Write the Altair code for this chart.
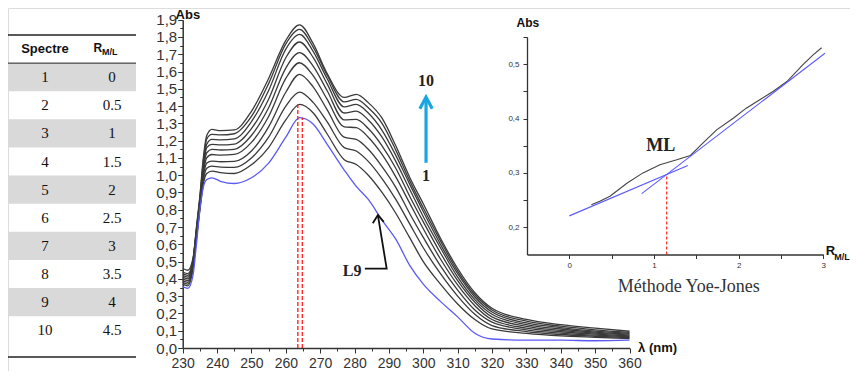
import altair as alt
import pandas as pd

# ---------------- data ----------------
WAVELENGTHS = [230, 231.5, 233, 234, 235, 236, 237, 238.5, 241, 245, 250, 255, 260, 264, 268,
               272, 277, 280.5, 284, 288, 292, 296, 300, 305, 310, 315, 320, 330, 340, 350, 360]

ABS_1 = [0.355, 0.345, 0.42, 0.60, 0.80, 0.93, 0.975, 0.985, 0.965, 0.952, 0.985, 1.07, 1.22, 1.333, 1.295,
         1.18, 1.03, 0.935, 0.86, 0.74, 0.63, 0.48, 0.37, 0.27, 0.18, 0.085, 0.052, 0.045, 0.045, 0.042, 0.045]
ABS_2 = [0.37, 0.36, 0.46, 0.63, 0.80, 0.95, 1.01, 1.024, 1.015, 1.01, 1.06, 1.16, 1.32, 1.41, 1.36,
         1.24, 1.09, 1.062, 1.00, 0.90, 0.78, 0.64, 0.50, 0.37, 0.255, 0.165, 0.11, 0.085, 0.07, 0.062, 0.055]
ABS_3 = [0.38, 0.37, 0.47, 0.64, 0.81, 0.97, 1.04, 1.053, 1.047, 1.045, 1.10, 1.22, 1.40, 1.481, 1.42,
         1.31, 1.16, 1.14, 1.08, 0.98, 0.86, 0.72, 0.58, 0.43, 0.30, 0.195, 0.13, 0.095, 0.078, 0.068, 0.06]
ABS_4 = [0.39, 0.38, 0.48, 0.65, 0.82, 0.99, 1.07, 1.082, 1.078, 1.08, 1.14, 1.28, 1.48, 1.584, 1.51,
         1.38, 1.22, 1.207, 1.15, 1.05, 0.93, 0.78, 0.64, 0.475, 0.335, 0.22, 0.15, 0.105, 0.086, 0.074, 0.065]
ABS_5 = [0.40, 0.39, 0.49, 0.66, 0.83, 1.01, 1.10, 1.12, 1.116, 1.12, 1.19, 1.34, 1.56, 1.651, 1.575,
         1.44, 1.28, 1.275, 1.22, 1.12, 0.99, 0.84, 0.69, 0.515, 0.365, 0.245, 0.165, 0.115, 0.094, 0.08, 0.07]
ABS_6 = [0.41, 0.40, 0.50, 0.67, 0.84, 1.03, 1.13, 1.149, 1.146, 1.15, 1.23, 1.39, 1.62, 1.709, 1.63,
         1.49, 1.32, 1.323, 1.27, 1.17, 1.04, 0.88, 0.73, 0.55, 0.39, 0.265, 0.18, 0.125, 0.102, 0.086, 0.075]
ABS_7 = [0.42, 0.41, 0.50, 0.68, 0.85, 1.05, 1.16, 1.178, 1.175, 1.18, 1.27, 1.44, 1.68, 1.771, 1.68,
         1.53, 1.36, 1.371, 1.32, 1.22, 1.08, 0.92, 0.76, 0.58, 0.41, 0.28, 0.195, 0.135, 0.11, 0.092, 0.08]
ABS_8 = [0.43, 0.42, 0.51, 0.68, 0.86, 1.06, 1.18, 1.207, 1.204, 1.21, 1.31, 1.49, 1.73, 1.815, 1.715,
         1.56, 1.395, 1.41, 1.36, 1.26, 1.115, 0.95, 0.79, 0.60, 0.43, 0.295, 0.208, 0.145, 0.118, 0.098, 0.085]
ABS_9 = [0.44, 0.43, 0.51, 0.69, 0.87, 1.08, 1.21, 1.236, 1.233, 1.24, 1.34, 1.53, 1.76, 1.844, 1.74,
         1.58, 1.425, 1.439, 1.39, 1.30, 1.145, 0.97, 0.81, 0.62, 0.445, 0.308, 0.22, 0.155, 0.126, 0.105, 0.09]
ABS_10 = [0.46, 0.45, 0.52, 0.70, 0.88, 1.10, 1.23, 1.265, 1.258, 1.262, 1.37, 1.56, 1.78, 1.87, 1.76,
          1.59, 1.45, 1.468, 1.42, 1.33, 1.17, 0.99, 0.835, 0.635, 0.46, 0.32, 0.23, 0.165, 0.135, 0.115, 0.097]
CURVES = [ABS_1, ABS_2, ABS_3, ABS_4, ABS_5, ABS_6, ABS_7, ABS_8, ABS_9, ABS_10]

PEAK_WL = [263.5, 264.8]
PEAK_ABS = [1.41, 1.333]

SPECTRE = ["1", "2", "3", "4", "5", "6", "7", "8", "9", "10"]
R_ML = ["0", "0.5", "1", "1.5", "2", "2.5", "3", "3.5", "4", "4.5"]

YJ_R = [0.26, 0.36, 0.48, 0.68, 0.87, 1.07, 1.27, 1.43, 1.58, 1.74, 1.94, 2.09, 2.25, 2.41, 2.57, 2.76, 2.88, 2.98]
YJ_ABS = [0.2415, 0.248, 0.257, 0.281, 0.300, 0.315, 0.324, 0.332, 0.355, 0.379, 0.401, 0.419, 0.4345, 0.450,
          0.468, 0.499, 0.517, 0.530]
TANGENT_1_R = [0.0, 1.40]
TANGENT_1_ABS = [0.221, 0.3135]
TANGENT_2_R = [0.855, 3.02]
TANGENT_2_ABS = [0.262, 0.520]
YJ_POINT_R = [1.15]
YJ_POINT_ABS = [0.297]

# ---------------- layout ----------------
SANS = "Liberation Sans"
SERIF = "Liberation Serif"
TXT = "#333333"

SX_MAIN = alt.Scale(domain=[230, 360], range=[174.7, 621.5], nice=False, zero=False)
SY_MAIN = alt.Scale(domain=[0, 1.9], range=[340, 11.7], nice=False, zero=False)
SX_INS = alt.Scale(domain=[-0.5, 3], range=[519, 815.3], nice=False, zero=False)
SY_INS = alt.Scale(domain=[0.15, 0.55], range=[246.5, 28.9], nice=False, zero=False)
SX_TAB = alt.Scale(domain=[0, 1], range=[0, 128], nice=False, zero=False)
SY_TAB = alt.Scale(domain=[0, 12], range=[27, 364.4], nice=False, zero=False)

COMMA1 = "replace(format(datum.value, '.1f'), '.', ',')"
IS_TENTH = "abs(datum.value*10 - round(datum.value*10)) < 0.001"

AX_MAIN_X = alt.Axis(
    orient="bottom", offset=-23, values=list(range(230, 361, 5)),
    labelExpr="datum.value % 10 === 0 ? format(datum.value, 'd') : ''",
    tickSize={"condition": {"test": "datum.value % 10 !== 0", "value": 3}, "value": 5},
    labelFont=SANS, labelFontSize=14, labelColor=TXT, labelPadding=3,
    labelFlush=False, labelOverlap=False, domainColor="#333", domainWidth=1.5,
    tickColor="#333", tickWidth=1, grid=False, title=None)
AX_MAIN_Y = alt.Axis(
    orient="left", offset=-174.7, values=[round(i * 0.05, 2) for i in range(39)],
    labelExpr=f"{IS_TENTH} ? {COMMA1} : ''",
    tickSize={"condition": {"test": f"!({IS_TENTH})", "value": 3}, "value": 5},
    labelFont=SANS, labelFontSize=15, labelColor=TXT, labelPadding=1,
    labelFlush=False, labelOverlap=False, domainColor="#333", domainWidth=1.5,
    tickColor="#333", tickWidth=1, grid=False, title=None)
AX_INS_X = alt.Axis(
    orient="bottom", offset=-116.5, values=[0, 0.5, 1, 1.5, 2, 2.5, 3],
    labelExpr="datum.value % 1 === 0 ? format(datum.value, 'd') : ''",
    tickSize=4, labelFont=SANS, labelFontSize=8, labelColor=TXT, labelPadding=3,
    labelFlush=False, labelOverlap=False, domainColor="#333", domainWidth=1.3,
    tickColor="#333", grid=False, title=None)
AX_INS_Y = alt.Axis(
    orient="left", offset=-519, values=[0.2, 0.25, 0.3, 0.35, 0.4, 0.45, 0.5, 0.55],
    labelExpr=f"{IS_TENTH} && datum.value < 0.54 ? {COMMA1} : ''",
    tickSize=4, labelFont=SANS, labelFontSize=8, labelColor=TXT, labelPadding=4,
    labelFlush=False, labelOverlap=False, domainColor="#333", domainWidth=1.3,
    tickColor="#333", grid=False, title=None)


def xm(f, axis=None):
    return alt.X(f, scale=SX_MAIN, axis=axis)


def ym(f, axis=None):
    return alt.Y(f, scale=SY_MAIN, axis=axis)


def xi(f, axis=None):
    return alt.X(f, scale=SX_INS, axis=axis)


def yi(f, axis=None):
    return alt.Y(f, scale=SY_INS, axis=axis)


def xt(f):
    return alt.X(f, scale=SX_TAB, axis=None)


def yt(f):
    return alt.Y(f, scale=SY_TAB, axis=None)


# ---------------- main spectra ----------------
rows = []
for k, curve in enumerate(CURVES, start=1):
    for wl, a in zip(WAVELENGTHS, curve):
        rows.append({"curve": k, "wl": wl, "abs": a})
spec = pd.DataFrame(rows)

black = alt.Chart(spec[spec.curve > 1]).mark_line(
    interpolate="monotone", color="#3a3a3a", strokeWidth=1.3).encode(
    x=xm("wl:Q", AX_MAIN_X), y=ym("abs:Q", AX_MAIN_Y), detail="curve:N")
blue = alt.Chart(spec[spec.curve == 1]).mark_line(
    interpolate="monotone", color="#5a5af2", strokeWidth=1.3).encode(
    x=xm("wl:Q"), y=ym("abs:Q"))

peaks = pd.DataFrame({"wl": PEAK_WL, "abs": PEAK_ABS, "base": [0.0] * len(PEAK_WL)})
red_main = alt.Chart(peaks).mark_rule(color="#ff1a1a", strokeDash=[4, 2], strokeWidth=1.3).encode(
    x=xm("wl:Q"), y=ym("base:Q"), y2="abs:Q")

# cyan arrow 1 -> 10
cyan_df = pd.DataFrame({
    "wl": [300.8, 300.8, 299.0, 300.8, 302.6],
    "abs": [1.072, 1.45, 1.385, 1.452, 1.385],
    "seg": [0, 0, 1, 1, 1], "i": [0, 1, 0, 1, 2]})
cyan = alt.Chart(cyan_df).mark_line(color="#19a6e0", strokeWidth=3.2, strokeJoin="miter").encode(
    x=xm("wl:Q"), y=ym("abs:Q"), detail="seg:N", order="i:Q")

# L9 arrow
l9_df = pd.DataFrame({
    "wl": [283.0, 289.35, 286.8, 285.3, 286.8, 288.5],
    "abs": [0.459, 0.459, 0.768, 0.722, 0.770, 0.730],
    "seg": [0, 0, 0, 1, 1, 1], "i": [0, 1, 2, 0, 1, 2]})
l9_arrow = alt.Chart(l9_df).mark_line(color="#111", strokeWidth=1.8).encode(
    x=xm("wl:Q"), y=ym("abs:Q"), detail="seg:N", order="i:Q")

main_serif = pd.DataFrame({"wl": [300.8, 300.8, 279.3], "abs": [1.547, 0.997, 0.446], "t": ["10", "1", "L9"]})
main_serif_txt = alt.Chart(main_serif).mark_text(
    font=SERIF, fontSize=16, fontWeight="bold", color="#222", baseline="middle").encode(
    x=xm("wl:Q"), y=ym("abs:Q"), text="t:N")

abs_title = alt.Chart(pd.DataFrame({"wl": [231.5], "abs": [1.93], "t": ["Abs"]})).mark_text(
    font=SANS, fontSize=13, fontWeight="bold", color="#111", baseline="middle").encode(
    x=xm("wl:Q"), y=ym("abs:Q"), text="t:N")
lam_title = alt.Chart(pd.DataFrame({"wl": [362.5], "abs": [0.0], "t": ["λ (nm)"]})).mark_text(
    font=SANS, fontSize=13, fontWeight="bold", color="#111", baseline="middle", align="left").encode(
    x=xm("wl:Q"), y=ym("abs:Q"), text="t:N")

# ---------------- inset (Yoe-Jones) ----------------
yj = pd.DataFrame({"r": YJ_R, "abs": YJ_ABS})
yj_line = alt.Chart(yj).mark_line(color="#444", strokeWidth=1.1).encode(
    x=xi("r:Q", AX_INS_X), y=yi("abs:Q", AX_INS_Y))
tang = pd.DataFrame({"r": TANGENT_1_R + TANGENT_2_R, "abs": TANGENT_1_ABS + TANGENT_2_ABS,
                     "seg": [1, 1, 2, 2]})
tang_lines = alt.Chart(tang).mark_line(color="#5a5aff", strokeWidth=1.1).encode(
    x=xi("r:Q"), y=yi("abs:Q"), detail="seg:N")
ypt = pd.DataFrame({"r": YJ_POINT_R, "abs": YJ_POINT_ABS, "base": [0.15]})
red_ins = alt.Chart(ypt).mark_rule(color="#ff1a1a", strokeDash=[3, 2], strokeWidth=1.1).encode(
    x=xi("r:Q"), y=yi("base:Q"), y2="abs:Q")

ml_txt = alt.Chart(pd.DataFrame({"r": [1.08], "abs": [0.349], "t": ["ML"]})).mark_text(
    font=SERIF, fontSize=18, fontWeight="bold", color="#222", baseline="middle").encode(
    x=xi("r:Q"), y=yi("abs:Q"), text="t:N")
method_txt = alt.Chart(pd.DataFrame({"r": [1.41], "abs": [0.09], "t": ["Méthode Yoe-Jones"]})).mark_text(
    font=SERIF, fontSize=18, color="#333", baseline="middle").encode(
    x=xi("r:Q"), y=yi("abs:Q"), text="t:N")
ins_abs = alt.Chart(pd.DataFrame({"r": [-0.49], "abs": [0.575], "t": ["Abs"]})).mark_text(
    font=SANS, fontSize=12, fontWeight="bold", color="#111", baseline="middle").encode(
    x=xi("r:Q"), y=yi("abs:Q"), text="t:N")
ins_r = alt.Chart(pd.DataFrame({"r": [3.03], "abs": [0.1564], "t": ["R"]})).mark_text(
    font=SANS, fontSize=13, fontWeight="bold", color="#111", baseline="middle", align="left").encode(
    x=xi("r:Q"), y=yi("abs:Q"), text="t:N")
ins_ml = alt.Chart(pd.DataFrame({"r": [3.13], "abs": [0.146], "t": ["M/L"]})).mark_text(
    font=SANS, fontSize=9, fontWeight="bold", color="#111", baseline="middle", align="left").encode(
    x=xi("r:Q"), y=yi("abs:Q"), text="t:N")

# ---------------- table ----------------
tab = pd.DataFrame({"spectre": SPECTRE, "r_ml": R_ML})
tab["top"] = range(1, len(tab) + 1)
tab["bot"] = tab["top"] + 1
tab["mid"] = tab["top"] + 0.5
tab["x0"] = 0.0
tab["x1"] = 1.0
tab["c1"] = 0.289
tab["c2"] = 0.8125
shaded = alt.Chart(tab[tab["top"] % 2 == 1]).mark_rect(color="#d9d9d9").encode(
    x=xt("x0:Q"), x2="x1:Q", y=yt("top:Q"), y2="bot:Q")
col1 = alt.Chart(tab).mark_text(font=SERIF, fontSize=15, color="#111", baseline="middle").encode(
    x=xt("c1:Q"), y=yt("mid:Q"), text="spectre:N")
col2 = alt.Chart(tab).mark_text(font=SERIF, fontSize=15, color="#111", baseline="middle").encode(
    x=xt("c2:Q"), y=yt("mid:Q"), text="r_ml:N")
hlines = pd.DataFrame({"y": [0.0, 1.0, 11.45], "w": [1.6, 1.0, 1.6], "x0": [0.0] * 3, "x1": [1.0] * 3})
tab_lines = alt.Chart(hlines).mark_rule(color="#222").encode(
    x=xt("x0:Q"), x2="x1:Q", y=yt("y:Q"), strokeWidth=alt.StrokeWidth("w:Q", scale=None))
head = pd.DataFrame({"x": [0.289], "y": [0.5], "t": ["Spectre"]})
head_txt = alt.Chart(head).mark_text(font=SANS, fontSize=13, fontWeight="bold", color="#111",
                                     baseline="middle").encode(x=xt("x:Q"), y=yt("y:Q"), text="t:N")
head_r = alt.Chart(pd.DataFrame({"x": [0.735], "y": [0.45], "t": ["R"]})).mark_text(
    font=SANS, fontSize=12, fontWeight="bold", color="#111", baseline="middle", align="right").encode(
    x=xt("x:Q"), y=yt("y:Q"), text="t:N")
head_ml = alt.Chart(pd.DataFrame({"x": [0.735], "y": [0.62], "t": ["M/L"]})).mark_text(
    font=SANS, fontSize=9, fontWeight="bold", color="#111", baseline="middle", align="left").encode(
    x=xt("x:Q"), y=yt("y:Q"), text="t:N")

layers = [shaded, tab_lines, col1, col2, head_txt, head_r, head_ml,
          black, blue, red_main, cyan, l9_arrow, main_serif_txt, abs_title, lam_title,
          yj_line, tang_lines, red_ins, ml_txt, method_txt, ins_abs, ins_r, ins_ml]

chart = alt.layer(*layers).resolve_scale(
    x="independent", y="independent"
).resolve_axis(
    x="independent", y="independent"
).properties(
    width=842, height=363, autosize=alt.AutoSizeParams(type="none"), padding=0
).configure_view(stroke=None).configure(background="white")

chart.save("out.html", embed_options={"renderer": "svg", "actions": False})
